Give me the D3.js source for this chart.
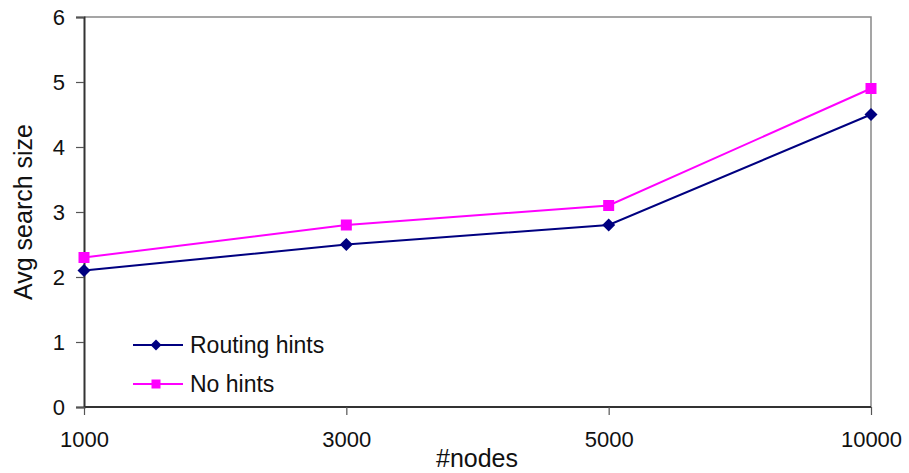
<!DOCTYPE html>
<html>
<head>
<meta charset="utf-8">
<script src="https://cdn.jsdelivr.net/npm/d3@7"></script>
<style>
  html, body { margin: 0; padding: 0; background: #fff; }
  svg { display: block; font-family: "Liberation Sans", Arial, Helvetica, sans-serif; }
</style>
</head>
<body>
<svg id="chart" width="909" height="473"></svg>
<script>
// Average search size vs. network size
const categories = ["1000", "3000", "5000", "10000"];
const routingHints = [2.1, 2.5, 2.8, 4.5];
const noHints = [2.3, 2.8, 3.1, 4.9];
const yTicks = [0, 1, 2, 3, 4, 5, 6];
const seriesNames = ["Routing hints", "No hints"];

const svg = d3.select("#chart");
const plotLeft = 84, plotRight = 871, plotTop = 17, plotBottom = 407;

const x = d3.scalePoint().domain(categories).range([plotLeft, plotRight]);
const y = d3.scaleLinear().domain([0, 6]).range([plotBottom, plotTop]);

// plot frame: grey top and right edges
svg.append("path")
  .attr("d", `M${plotLeft},${plotTop}H${plotRight}V${plotBottom}`)
  .attr("fill", "none").attr("stroke", "#888").attr("stroke-width", 1.5);

// y axis
const yAxis = svg.append("g").attr("transform", `translate(${plotLeft},0)`)
  .call(d3.axisLeft(y).tickValues(yTicks).tickSize(8).tickPadding(11).tickFormat(d3.format("d")));
yAxis.select(".domain").attr("stroke", "#333").attr("stroke-width", 2);
yAxis.selectAll(".tick line").attr("stroke", "#555").attr("stroke-width", 1.2);
yAxis.selectAll(".tick text").attr("font-size", 22).attr("fill", "#111")
  .attr("font-family", "Liberation Sans, Arial, sans-serif");

// x axis
const xAxis = svg.append("g").attr("transform", `translate(0,${plotBottom})`)
  .call(d3.axisBottom(x).tickSize(8).tickPadding(16));
xAxis.select(".domain").attr("stroke", "#333").attr("stroke-width", 2)
  .attr("d", `M${plotLeft},0H${plotRight}`);
xAxis.selectAll(".tick line").attr("stroke", "#555").attr("stroke-width", 1.2);
xAxis.selectAll(".tick text").attr("font-size", 22).attr("fill", "#111")
  .attr("font-family", "Liberation Sans, Arial, sans-serif");

// axis titles
svg.append("text")
  .attr("transform", "translate(32,212) rotate(-90)")
  .attr("text-anchor", "middle").attr("font-size", 25).attr("fill", "#111")
  .text("Avg search size");
svg.append("text")
  .attr("x", 477).attr("y", 467)
  .attr("text-anchor", "middle").attr("font-size", 25).attr("fill", "#111")
  .text("#nodes");

const line = d3.line().x((d, i) => x(categories[i])).y(d => y(d));

const diamond = (cx, cy, r) => `M${cx},${cy - r}L${cx + r},${cy}L${cx},${cy + r}L${cx - r},${cy}Z`;

// No hints (magenta, square markers)
svg.append("path").datum(noHints)
  .attr("d", line).attr("fill", "none").attr("stroke", "#ff00ff").attr("stroke-width", 2);
svg.selectAll(".sq").data(noHints).join("rect")
  .attr("x", (d, i) => x(categories[i]) - 5.5).attr("y", d => y(d) - 5.5)
  .attr("width", 11).attr("height", 11).attr("fill", "#ff00ff");

// Routing hints (navy, diamond markers)
svg.append("path").datum(routingHints)
  .attr("d", line).attr("fill", "none").attr("stroke", "#000080").attr("stroke-width", 2);
svg.selectAll(".dm").data(routingHints).join("path")
  .attr("d", (d, i) => diamond(x(categories[i]), y(d), 6.5)).attr("fill", "#000080");

// legend
const legend = [
  { name: seriesNames[0], color: "#000080", shape: "diamond", ly: 345 },
  { name: seriesNames[1], color: "#ff00ff", shape: "square", ly: 384 }
];
legend.forEach(l => {
  svg.append("line").attr("x1", 133).attr("x2", 183).attr("y1", l.ly).attr("y2", l.ly)
    .attr("stroke", l.color).attr("stroke-width", 2);
  if (l.shape === "diamond") {
    svg.append("path").attr("d", diamond(156, l.ly, 5.5)).attr("fill", l.color);
  } else {
    svg.append("rect").attr("x", 151.5).attr("y", l.ly - 4.5).attr("width", 9).attr("height", 9).attr("fill", l.color);
  }
  svg.append("text").attr("x", 190).attr("y", l.ly + 8).attr("font-size", 23).attr("fill", "#111").text(l.name);
});
</script>
</body>
</html>
